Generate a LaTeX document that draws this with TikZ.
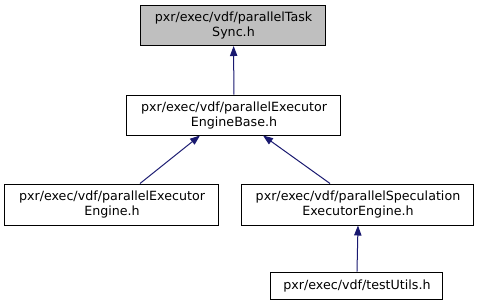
\documentclass[tikz,border=0pt]{standalone}
\usepackage{fontspec}
\setmainfont{DejaVu Sans}
\usetikzlibrary{arrows.meta, positioning, calc}
\definecolor{EdgeBlue}{HTML}{191970}
\definecolor{HeadGray}{HTML}{BFBFBF}

\begin{document}
\begin{tikzpicture}[x=0.75pt, y=-0.75pt, >={Triangle[length=7.5pt, width=5.5pt]},
    file/.style={draw, line width=0.75pt, align=center, inner sep=0pt,
        font=\fontsize{9.5}{11.25}\selectfont},
    link/.style={<-, EdgeBlue, line width=0.75pt}]
        \useasboundingbox (0,0) rectangle (480,305);
        % Header boxes
        \node [file, fill=HeadGray, minimum width=185*0.75pt, minimum height=40*0.75pt]
            (sync) at (233.5,25.5) {pxr/exec/vdf/parallelTask\\Sync.h};
        \node [file, minimum width=214*0.75pt, minimum height=40*0.75pt]
            (base) at (234,115) {pxr/exec/vdf/parallelExecutor\\EngineBase.h};
        \node [file, minimum width=214*0.75pt, minimum height=41*0.75pt]
            (engine) at (112,204.5) {pxr/exec/vdf/parallelExecutor\\Engine.h};
        \node [file, minimum width=232*0.75pt, minimum height=41*0.75pt]
            (spec) at (358,204.5) {pxr/exec/vdf/parallelSpeculation\\ExecutorEngine.h};
        \node [file, minimum width=172*0.75pt, minimum height=27*0.75pt]
            (test) at (357,285.5) {pxr/exec/vdf/testUtils.h};
        % Include edges
        \draw [link] (sync) -- (base);
        \draw [link] ([xshift=-25.5pt]base.south) -- ([xshift=21pt]engine.north);
        \draw [link] ([xshift=21.75pt]base.south) -- ([xshift=-21pt]spec.north);
        \draw [link] (spec.south) -- (test.north);
    \end{tikzpicture}
\end{document}
